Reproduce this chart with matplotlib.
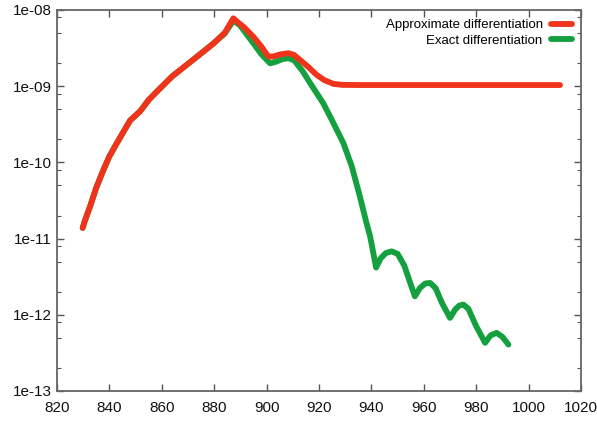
import numpy as np
import matplotlib
matplotlib.use("Agg")
import matplotlib.pyplot as plt
from matplotlib.ticker import FixedLocator, NullFormatter

plt.rcParams['font.family'] = ['Liberation Sans', 'DejaVu Sans']

# values (x, log10 of y)
approx_x = [829.8, 830.5, 832.6, 835.0, 837.7, 840.0, 842.8, 845.5, 847.9, 851.7,
            855.0, 859.3, 864.0, 869.5, 875.0, 879.7, 884.0, 887.3, 889.0, 891.5,
            894.9, 898.0, 900.6, 902.5, 905.0, 908.3, 910.5, 912.7, 916.0, 919.1,
            922.0, 925.5, 929.0, 935.0, 950.0, 970.0, 990.0, 1012.0]
approx_logy = [-10.86, -10.78, -10.58, -10.33, -10.10, -9.92, -9.75, -9.59, -9.45, -9.33,
               -9.18, -9.03, -8.87, -8.72, -8.57, -8.44, -8.30, -8.11, -8.16, -8.23,
               -8.35, -8.48, -8.61, -8.61, -8.585, -8.567, -8.59, -8.655, -8.75, -8.852,
               -8.92, -8.97, -8.983, -8.985, -8.985, -8.985, -8.985, -8.985]

exact_x = [829.8, 830.5, 832.6, 835.0, 837.7, 840.0, 842.8, 845.5, 847.9, 851.7,
           855.0, 859.3, 864.0, 869.5, 875.0, 879.7, 884.0, 887.3, 889.8, 894.8,
           898.0, 901.3, 903.5, 906.0, 908.3, 910.5, 913.9, 917.0, 921.6, 925.0,
           929.3, 932.5, 935.6, 938.0, 939.5, 941.8, 943.5, 945.5, 947.7, 950.0,
           952.5, 954.5, 956.6, 958.5, 960.5, 962.4, 964.5, 967.0, 970.0, 972.0,
           973.5, 975.1, 977.0, 980.0, 983.4, 985.5, 987.8, 990.0, 992.3]
exact_logy = [-10.86, -10.78, -10.58, -10.33, -10.10, -9.92, -9.75, -9.59, -9.45, -9.33,
              -9.18, -9.03, -8.87, -8.72, -8.57, -8.44, -8.31, -8.14, -8.20, -8.43,
              -8.58, -8.70, -8.68, -8.645, -8.633, -8.66, -8.81, -8.98, -9.223, -9.45,
              -9.747, -10.05, -10.447, -10.78, -10.97, -11.38, -11.26, -11.19, -11.168, -11.20,
              -11.35, -11.55, -11.758, -11.65, -11.59, -11.582, -11.65, -11.85, -12.041, -11.93,
              -11.88, -11.866, -11.92, -12.15, -12.368, -12.27, -12.237, -12.29, -12.391]

series_labels = ["Approximate differentiation", "Exact differentiation"]
ytick_vals = [1e-13, 1e-12, 1e-11, 1e-10, 1e-09, 1e-08]
ytick_labels = ["1e-13", "1e-12", "1e-11", "1e-10", "1e-09", "1e-08"]
xtick_vals = [820, 840, 860, 880, 900, 920, 940, 960, 980, 1000, 1020]

red = '#f0341c'
green = '#14a03e'

fig = plt.figure(figsize=(5.97, 4.21), dpi=100)
ax = fig.add_axes([0.0955, 0.0713, 0.8777, 0.905])

# exact under, approximate on top
l2, = ax.plot(exact_x, 10 ** np.array(exact_logy), color=green, lw=4.2,
              solid_capstyle='round', solid_joinstyle='round')
l1, = ax.plot(approx_x, 10 ** np.array(approx_logy), color=red, lw=4.2,
              solid_capstyle='round', solid_joinstyle='round')

ax.set_yscale('log')
ax.set_xlim(820, 1020)
ax.set_ylim(1e-13, 1e-8)

ax.yaxis.set_major_locator(FixedLocator(ytick_vals))
ax.set_yticklabels(ytick_labels)
minor = [m * v for v in ytick_vals[:-1] for m in (2, 5, 8)]
ax.yaxis.set_minor_locator(FixedLocator(minor))
ax.yaxis.set_minor_formatter(NullFormatter())
ax.set_xticks(xtick_vals)
ax.set_xticklabels([str(v) for v in xtick_vals])

ax.tick_params(which='both', direction='in', top=True, right=True,
               color='#555555', labelsize=11, labelcolor='#111111')
ax.tick_params(which='major', length=5, width=1)
ax.tick_params(which='minor', length=3, width=0.8)
ax.tick_params(axis='x', pad=7)
ax.tick_params(axis='y', pad=4)
for s in ax.spines.values():
    s.set_color('#666666')
    s.set_linewidth(1.3)

ax.legend([l1, l2], series_labels, loc='upper right', frameon=False,
          markerfirst=False, fontsize=9.5, handlelength=1.6,
          labelspacing=0.25, borderaxespad=0.3, handletextpad=0.6)

fig.savefig('out.png', dpi=100)
